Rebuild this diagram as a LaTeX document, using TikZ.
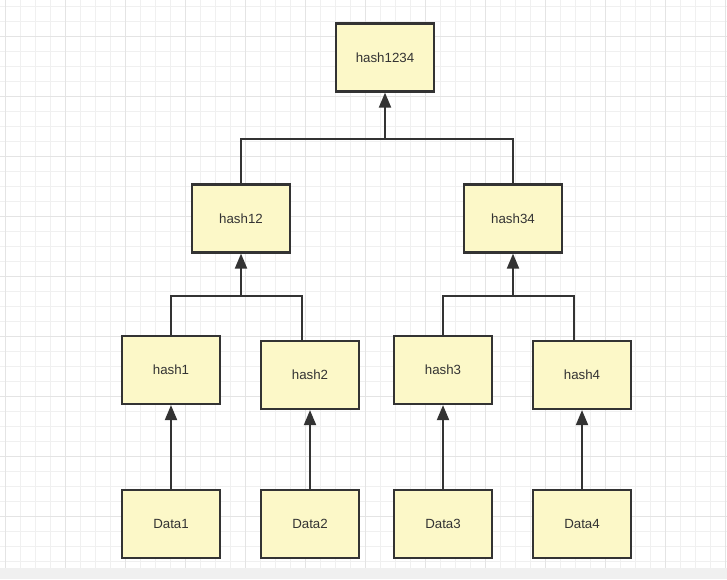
\documentclass[tikz,border=0pt]{standalone}
\usepackage{fontspec}
\setmainfont{Liberation Sans}
\usetikzlibrary{arrows.meta}
\definecolor{boxfill}{RGB}{252,248,200}
\definecolor{ink}{RGB}{51,51,51}
\definecolor{gridminor}{RGB}{240,240,240}
\definecolor{gridmajor}{RGB}{228,228,228}
\definecolor{band}{RGB}{240,240,240}
\tikzset{
  box/.style={draw=ink, line width=2.2pt, fill=boxfill, minimum width=98pt, minimum height=68pt, inner sep=0pt, font=\fontsize{13.3}{15}\selectfont, text=ink},
  link/.style={draw=ink, line width=2pt},
  uparrow/.style={link, -{Triangle[width=12pt,length=15pt]}}
}
\begin{document}
\begin{tikzpicture}[x=1pt,y=-1pt]
\useasboundingbox (0,0) rectangle (727,579);
\fill[white] (0,0) rectangle (727,579);
% grid
\foreach \k in {0,...,48} {
  \draw[gridminor, line width=1pt] ({5.7+15*\k},0) -- ({5.7+15*\k},568);
}
\foreach \k in {0,...,37} {
  \draw[gridminor, line width=1pt] (0,{6+15*\k}) -- (727,{6+15*\k});
}
\foreach \k in {0,...,12} {
  \draw[gridmajor, line width=1pt] ({5.7+60*\k},0) -- ({5.7+60*\k},568);
}
\foreach \k in {0,...,9} {
  \draw[gridmajor, line width=1pt] (0,{36+60*\k}) -- (727,{36+60*\k});
}
\fill[band] (0,568) rectangle (727,579);
% nodes
\node[box] (h1234) at (385,57.5) {hash1234};
\node[box] (h12) at (241,218.5) {hash12};
\node[box] (h34) at (513,218.5) {hash34};
\node[box] (h1) at (171,370) {hash1};
\node[box] (h2) at (310,375) {hash2};
\node[box] (h3) at (443,370) {hash3};
\node[box] (h4) at (582,375) {hash4};
\node[box] (d1) at (171,524) {Data1};
\node[box] (d2) at (310,524) {Data2};
\node[box] (d3) at (443,524) {Data3};
\node[box] (d4) at (582,524) {Data4};
% junctions
\coordinate (j12) at (241,296);
\coordinate (j34) at (513,296);
\coordinate (jtop) at (385,139);
% data arrows
\draw[uparrow] (d1.north) -- (h1.south);
\draw[uparrow] (d2.north) -- (h2.south);
\draw[uparrow] (d3.north) -- (h3.south);
\draw[uparrow] (d4.north) -- (h4.south);
% level 1
\draw[link] (h1.north) |- (j12);
\draw[link] ([xshift=-8pt]h2.north) |- (j12);
\draw[uparrow] (j12) -- (h12.south);
\draw[link] (h3.north) |- (j34);
\draw[link] ([xshift=-8pt]h4.north) |- (j34);
\draw[uparrow] (j34) -- (h34.south);
% level 2
\draw[link] (h12.north) |- (jtop);
\draw[link] (h34.north) |- (jtop);
\draw[uparrow] (jtop) -- (h1234.south);
\end{tikzpicture}
\end{document}
